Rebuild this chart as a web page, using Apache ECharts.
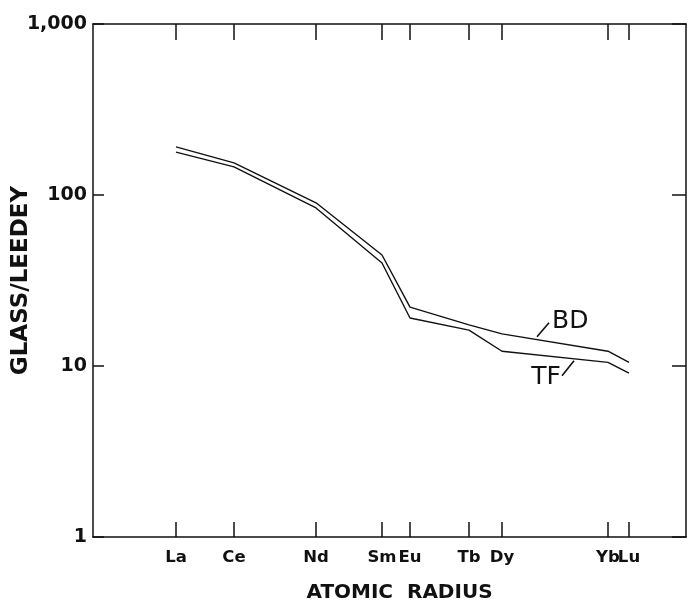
<!DOCTYPE html>
<html>
<head>
<meta charset="UTF-8">
<script src="https://cdn.jsdelivr.net/npm/echarts@6/dist/echarts.min.js"></script>
<style>
  html, body { margin: 0; padding: 0; background: #fff; }
  #main { width: 689px; height: 602px; }
</style>
</head>
<body>
<div id="main"></div>
<script>
// element names along the x axis, and where each sits on it
var elements = ['La', 'Ce', 'Nd', 'Sm', 'Eu', 'Tb', 'Dy', 'Yb', 'Lu'];
var elementPos = [83, 141, 223, 289, 317, 376, 409, 515, 536];
// glass / Leedey ratios
var bdValues = [191, 154, 90, 44.6, 22.1, 17.4, 15.4, 12.2, 10.5];
var tfValues = [178, 146, 84, 40, 19.1, 16.2, 12.2, 10.5, 9.1];
var yTicks = [1, 10, 100, 1000];

var chartDom = document.getElementById('main');
var myChart = echarts.init(chartDom);
var font = 'DejaVu Sans';
var ink = '#111';

function pairs(vals) {
  return vals.map(function (v, i) { return [elementPos[i], v]; });
}
// labels are split over two overlaid bottom axes so close neighbours (Yb, Lu) both stay visible
var posEven = elementPos.filter(function (p, i) { return i % 2 === 0; });
var posOdd = elementPos.filter(function (p, i) { return i % 2 === 1; });
function elemLabel(positions, withLine) {
  return {
    type: 'value', min: 0, max: 593, position: 'bottom', offset: 0,
    axisLine: { show: withLine, onZero: false, lineStyle: { color: ink, width: 1.5 } },
    axisTick: { show: withLine, inside: true, length: 15, customValues: elementPos, lineStyle: { color: ink, width: 1.5 } },
    axisLabel: {
      customValues: positions, margin: 12, hideOverlap: false,
      fontFamily: font, fontSize: 16.5, fontWeight: 'bold', color: ink,
      formatter: function (v) { return elements[elementPos.indexOf(v)]; }
    },
    splitLine: { show: false }
  };
}
var xBottom = elemLabel(posEven, true);
xBottom.name = 'ATOMIC  RADIUS';
xBottom.nameLocation = 'middle';
xBottom.nameGap = 46;
xBottom.nameTextStyle = { fontFamily: font, fontSize: 20, fontWeight: 'bold', color: ink, padding: [0, 0, 0, 20] };

var option = {
  animation: false,
  backgroundColor: '#fff',
  grid: { left: 93, right: 3, top: 24, bottom: 65, outerBoundsMode: 'none', containLabel: false },
  xAxis: [
    xBottom,
    elemLabel(posOdd, false),
    {
      type: 'value', min: 0, max: 593, position: 'top',
      axisLine: { onZero: false, lineStyle: { color: ink, width: 1.5 } },
      axisTick: { inside: true, length: 16, customValues: elementPos, lineStyle: { color: ink, width: 1.5 } },
      axisLabel: { show: false },
      splitLine: { show: false }
    }
  ],
  yAxis: [
    {
      type: 'log', logBase: 10, min: 1, max: 1000, position: 'left',
      name: 'GLASS/LEEDEY', nameLocation: 'middle', nameGap: 60, nameMoveOverlap: false,
      nameTextStyle: { fontFamily: font, fontSize: 23, fontWeight: 'bold', color: ink },
      axisLine: { show: true, onZero: false, lineStyle: { color: ink, width: 1.5 } },
      axisTick: { show: true, inside: true, length: 11, lineStyle: { color: ink, width: 1.5 } },
      axisLabel: {
        margin: 6, fontFamily: font, fontSize: 19, fontWeight: 'bold', color: ink,
        formatter: function (v) { return v >= 1000 ? '1,000' : String(v); }
      },
      splitLine: { show: false }
    },
    {
      type: 'log', logBase: 10, min: 1, max: 1000, position: 'right',
      axisLine: { show: true, onZero: false, lineStyle: { color: ink, width: 1.5 } },
      axisTick: { show: true, inside: true, length: 14, lineStyle: { color: ink, width: 1.5 } },
      axisLabel: { show: false },
      splitLine: { show: false }
    }
  ],
  series: [
    {
      name: 'BD', type: 'line', data: pairs(bdValues), symbol: 'none',
      lineStyle: { color: ink, width: 1.4 }
    },
    {
      name: 'TF', type: 'line', data: pairs(tfValues), symbol: 'none',
      lineStyle: { color: ink, width: 1.4 }
    }
  ]
};

myChart.setOption(option);

// line labels with short leader strokes, anchored on the drawn lines
function onLine(vals, pos) {
  var i = 0;
  while (elementPos[i + 1] < pos) i++;
  var t = (pos - elementPos[i]) / (elementPos[i + 1] - elementPos[i]);
  var lv = Math.log10(vals[i]) + t * (Math.log10(vals[i + 1]) - Math.log10(vals[i]));
  return myChart.convertToPixel({ gridIndex: 0 }, [pos, Math.pow(10, lv)]);
}
var bd = onLine(bdValues, 444);
var tf = onLine(tfValues, 481);
var lblStyle = { fontFamily: font, fontSize: 25, fill: ink, verticalAlign: 'middle' };
myChart.setOption({
  graphic: [
    { type: 'line', shape: { x1: bd[0], y1: bd[1] - 3, x2: bd[0] + 12, y2: bd[1] - 17 }, style: { stroke: ink, lineWidth: 1.6 } },
    { type: 'text', x: bd[0] + 15, y: bd[1] - 18, style: Object.assign({ text: 'BD', align: 'left' }, lblStyle) },
    { type: 'line', shape: { x1: tf[0], y1: tf[1] + 2, x2: tf[0] - 12, y2: tf[1] + 17 }, style: { stroke: ink, lineWidth: 1.6 } },
    { type: 'text', x: tf[0] - 13, y: tf[1] + 19, style: Object.assign({ text: 'TF', align: 'right' }, lblStyle) }
  ]
});
</script>
</body>
</html>
